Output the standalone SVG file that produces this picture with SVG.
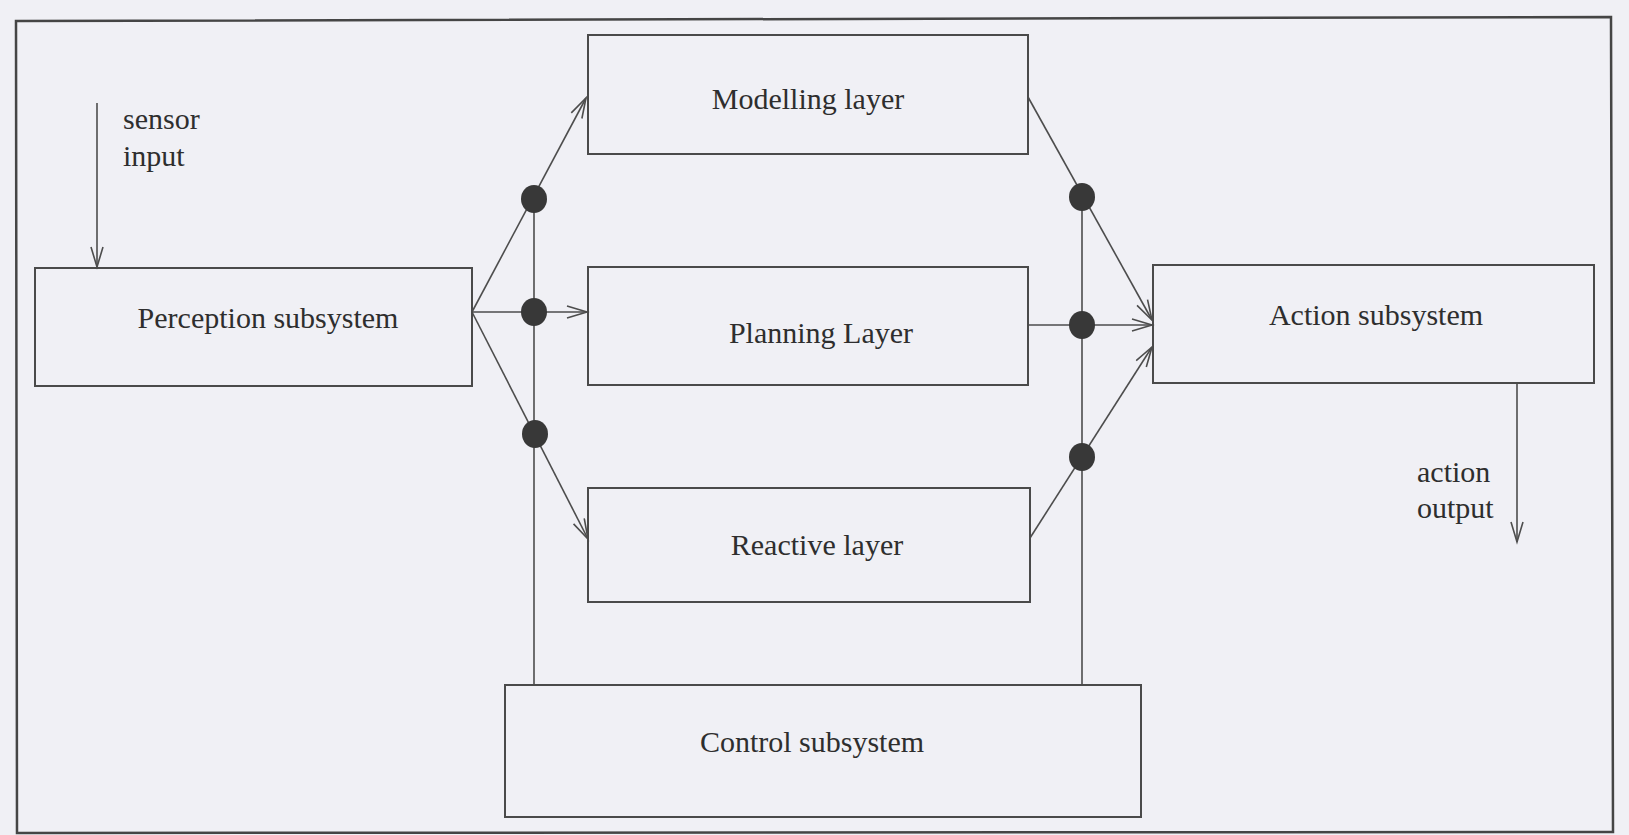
<svg xmlns="http://www.w3.org/2000/svg" width="1629" height="835" viewBox="0 0 1629 835">
<style>
.box{fill:none;stroke:#4a4a4a;stroke-width:2}
.lbl{font-family:"Liberation Serif","Times New Roman",serif;font-size:30px;fill:#2e2e2e}
.mid{text-anchor:middle}
.ln{fill:none;stroke:#4d4d4d;stroke-width:1.6}
.dot{fill:#383838}
</style>
<defs>
<marker id="ah" markerUnits="userSpaceOnUse" markerWidth="24" markerHeight="16" refX="21" refY="7" orient="auto">
<path d="M1,1 L21,7 L1,13" fill="none" stroke="#4d4d4d" stroke-width="1.6"/>
</marker>
</defs>
<rect x="0" y="0" width="1629" height="835" fill="#f0f0f5"/>
<path id="frame" d="M16,21 L1611,17 L1613,832 L17,833 Z" fill="none" stroke="#454545" stroke-width="2.5"/>

<g id="connectors">
<line class="ln" x1="97" y1="103" x2="97" y2="267" marker-end="url(#ah)"/>
<line class="ln" x1="472" y1="312" x2="586" y2="98" marker-end="url(#ah)"/>
<line class="ln" x1="472" y1="312" x2="587" y2="312" marker-end="url(#ah)"/>
<line class="ln" x1="472" y1="312" x2="588" y2="539" marker-end="url(#ah)"/>
<line class="ln" x1="534" y1="198" x2="534" y2="685"/>
<line class="ln" x1="1082" y1="196" x2="1082" y2="685"/>
<line class="ln" x1="1028" y1="97" x2="1152" y2="320" marker-end="url(#ah)"/>
<line class="ln" x1="1028" y1="325" x2="1152" y2="325" marker-end="url(#ah)"/>
<line class="ln" x1="1030" y1="538" x2="1152" y2="347" marker-end="url(#ah)"/>
<line class="ln" x1="1517" y1="383" x2="1517" y2="542" marker-end="url(#ah)"/>
<ellipse class="dot" cx="534" cy="199" rx="13" ry="14"/>
<ellipse class="dot" cx="534" cy="312" rx="13" ry="14"/>
<ellipse class="dot" cx="535" cy="434" rx="13" ry="14"/>
<ellipse class="dot" cx="1082" cy="197" rx="13" ry="14"/>
<ellipse class="dot" cx="1082" cy="325" rx="13" ry="14"/>
<ellipse class="dot" cx="1082" cy="457" rx="13" ry="14"/>
</g>

<g id="sensor-label">
<text class="lbl" x="123" y="129">sensor</text>
<text class="lbl" x="123" y="166">input</text>
</g>

<g id="perception">
<rect class="box" x="35" y="268" width="437" height="118"/>
<text class="lbl mid" x="268" y="328">Perception subsystem</text>
</g>

<g id="modelling">
<rect class="box" x="588" y="35" width="440" height="119"/>
<text class="lbl mid" x="808" y="109">Modelling layer</text>
</g>

<g id="planning">
<rect class="box" x="588" y="267" width="440" height="118"/>
<text class="lbl mid" x="821" y="343">Planning Layer</text>
</g>

<g id="reactive">
<rect class="box" x="588" y="488" width="442" height="114"/>
<text class="lbl mid" x="817" y="555">Reactive layer</text>
</g>

<g id="control">
<rect class="box" x="505" y="685" width="636" height="132"/>
<text class="lbl mid" x="812" y="752">Control subsystem</text>
</g>

<g id="action">
<rect class="box" x="1153" y="265" width="441" height="118"/>
<text class="lbl mid" x="1376" y="325">Action subsystem</text>
</g>

<g id="action-label">
<text class="lbl" x="1417" y="482">action</text>
<text class="lbl" x="1417" y="518">output</text>
</g>
</svg>
